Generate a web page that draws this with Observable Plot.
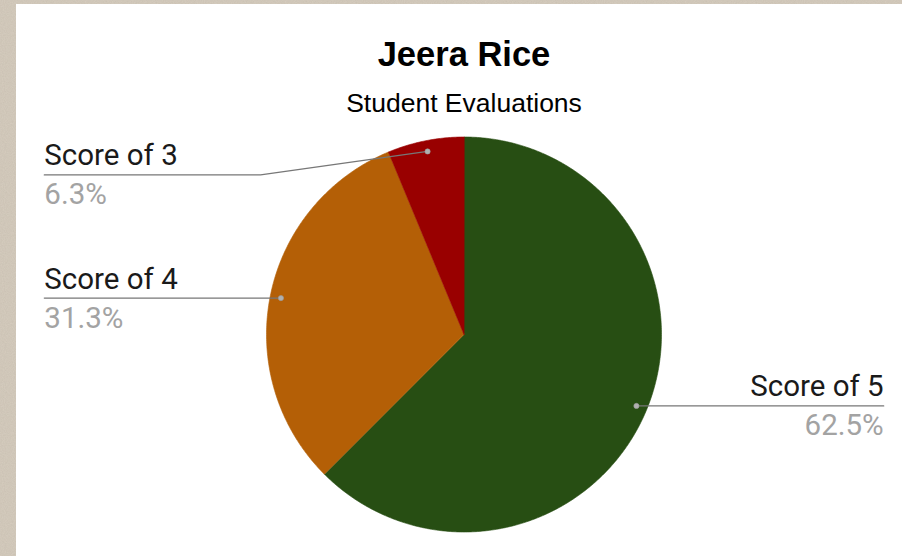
<!DOCTYPE html>
<html>
<head>
<meta charset="utf-8">
<script src="https://cdn.jsdelivr.net/npm/d3@7"></script>
<script src="https://cdn.jsdelivr.net/npm/@observablehq/plot@0.6"></script>
<style>
  html, body { margin: 0; padding: 0; }
  body { width: 902px; height: 556px; background-color: #d6cdbf; position: relative; overflow: hidden;
         background-image: url("data:image/svg+xml;utf8,<svg xmlns='http://www.w3.org/2000/svg' width='200' height='200'><filter id='n'><feTurbulence type='fractalNoise' baseFrequency='0.9' numOctaves='2' stitchTiles='stitch'/><feColorMatrix values='0 0 0 0 0.45  0 0 0 0 0.40  0 0 0 0 0.33  0 0 0 0.35 0'/></filter><rect width='200' height='200' filter='url(%23n)'/></svg>"); }
  #panel { position: absolute; left: 16px; top: 4px; right: 0; bottom: 0; background: #ffffff; }
  #chart { position: absolute; left: 0; top: 0; width: 902px; height: 556px; }
  #header { position: relative; width: 902px; height: 120px; }
  #title { position: absolute; left: 26px; right: 0; top: 37px; text-align: center;
           font-family: "Liberation Sans", Arial, sans-serif; font-weight: bold; font-size: 34.5px; line-height: 34px; color: #000; }
  #subtitle { position: absolute; left: 26px; right: 0; top: 90px; text-align: center;
           font-family: "Liberation Sans", Arial, sans-serif; font-size: 26.5px; line-height: 26px; color: #000; }
</style>
</head>
<body>
<div id="panel"></div>
<div id="chart">
  <div id="header">
    <div id="title">Jeera Rice</div>
    <div id="subtitle">Student Evaluations</div>
  </div>
  <div id="plot"></div>
</div>
<script>
// ---- data ----
const categories = ["Score of 5", "Score of 4", "Score of 3"];
const counts = [10, 5, 1];
const colors = ["#274e13", "#b45f06", "#990000"];

// ---- layout ----
const total = d3.sum(counts);
const fmt = d3.format(".1%");
const arcs = d3.pie().sort(null).value(d => d.count).startAngle(0).endAngle(2 * Math.PI)(
  categories.map((c, i) => ({label: c, count: counts[i]}))
);

// slice polygons in unit-radius coordinates (y up)
const slicePts = [];
for (const a of arcs) {
  const steps = Math.max(4, Math.ceil((a.endAngle - a.startAngle) / (2 * Math.PI) * 720));
  slicePts.push({label: a.data.label, x: 0, y: 0});
  for (let s = 0; s <= steps; s++) {
    const t = a.startAngle + (a.endAngle - a.startAngle) * s / steps;
    slicePts.push({label: a.data.label, x: Math.sin(t), y: Math.cos(t)});
  }
}

// leader lines and labels
const dotR = 0.945, labelEdge = 2.125, topLimit = 0.808, elbowX = 1.03;
const dots = [], leaders = [], labels = [];
for (const a of arcs) {
  const m = (a.startAngle + a.endAngle) / 2;
  const dx = dotR * Math.sin(m), dy = dotR * Math.cos(m);
  const left = dx < 0;
  const ly = left ? Math.min(dy, topLimit) : dy;
  const ex = left ? -labelEdge : labelEdge;
  const lab = a.data.label;
  dots.push({label: lab, x: dx, y: dy});
  leaders.push({label: lab, x: dx, y: dy});
  if (ly !== dy) leaders.push({label: lab, x: left ? -elbowX : elbowX, y: ly});
  leaders.push({label: lab, x: ex, y: ly});
  labels.push({label: lab, pct: fmt(a.data.count / total), x: ex, y: ly, anchor: left ? "start" : "end"});
}

const R = 197.5, cx = 463.5, cy = 214;
const plot = Plot.plot({
  width: 902,
  height: 436,
  margin: 0,
  style: {background: "transparent", overflow: "visible"},
  x: {domain: [-1, 1], range: [cx - R, cx + R], axis: null},
  y: {domain: [-1, 1], range: [cy + R, cy - R], axis: null},
  color: {domain: categories, range: colors},
  marks: [
    Plot.line(slicePts, {x: "x", y: "y", z: "label", fill: "label", stroke: "label", strokeWidth: 0.6, curve: "linear-closed"}),
    Plot.line(leaders, {x: "x", y: "y", z: "label", stroke: "#777777", strokeWidth: 1.3}),
    Plot.dot(dots, {x: "x", y: "y", r: 2.6, fill: "#b0b0b0", stroke: "#9a9a9a", strokeWidth: 0.6}),
    Plot.text(labels.filter(d => d.anchor === "start"), {x: "x", y: "y", text: "label", textAnchor: "start", lineAnchor: "bottom", dy: -9.5, fontSize: 29.5, fontFamily: "Roboto", fill: "#1a1a1a"}),
    Plot.text(labels.filter(d => d.anchor === "end"), {x: "x", y: "y", text: "label", textAnchor: "end", lineAnchor: "bottom", dy: -9.5, fontSize: 29.5, fontFamily: "Roboto", fill: "#1a1a1a"}),
    Plot.text(labels.filter(d => d.anchor === "start"), {x: "x", y: "y", text: "pct", textAnchor: "start", lineAnchor: "bottom", dy: 29.5, fontSize: 29.5, fontFamily: "Roboto", fill: "#a3a3a3"}),
    Plot.text(labels.filter(d => d.anchor === "end"), {x: "x", y: "y", text: "pct", textAnchor: "end", lineAnchor: "bottom", dy: 29.5, fontSize: 29.5, fontFamily: "Roboto", fill: "#a3a3a3"})
  ]
});
document.getElementById("plot").appendChild(plot);
</script>
</body>
</html>
